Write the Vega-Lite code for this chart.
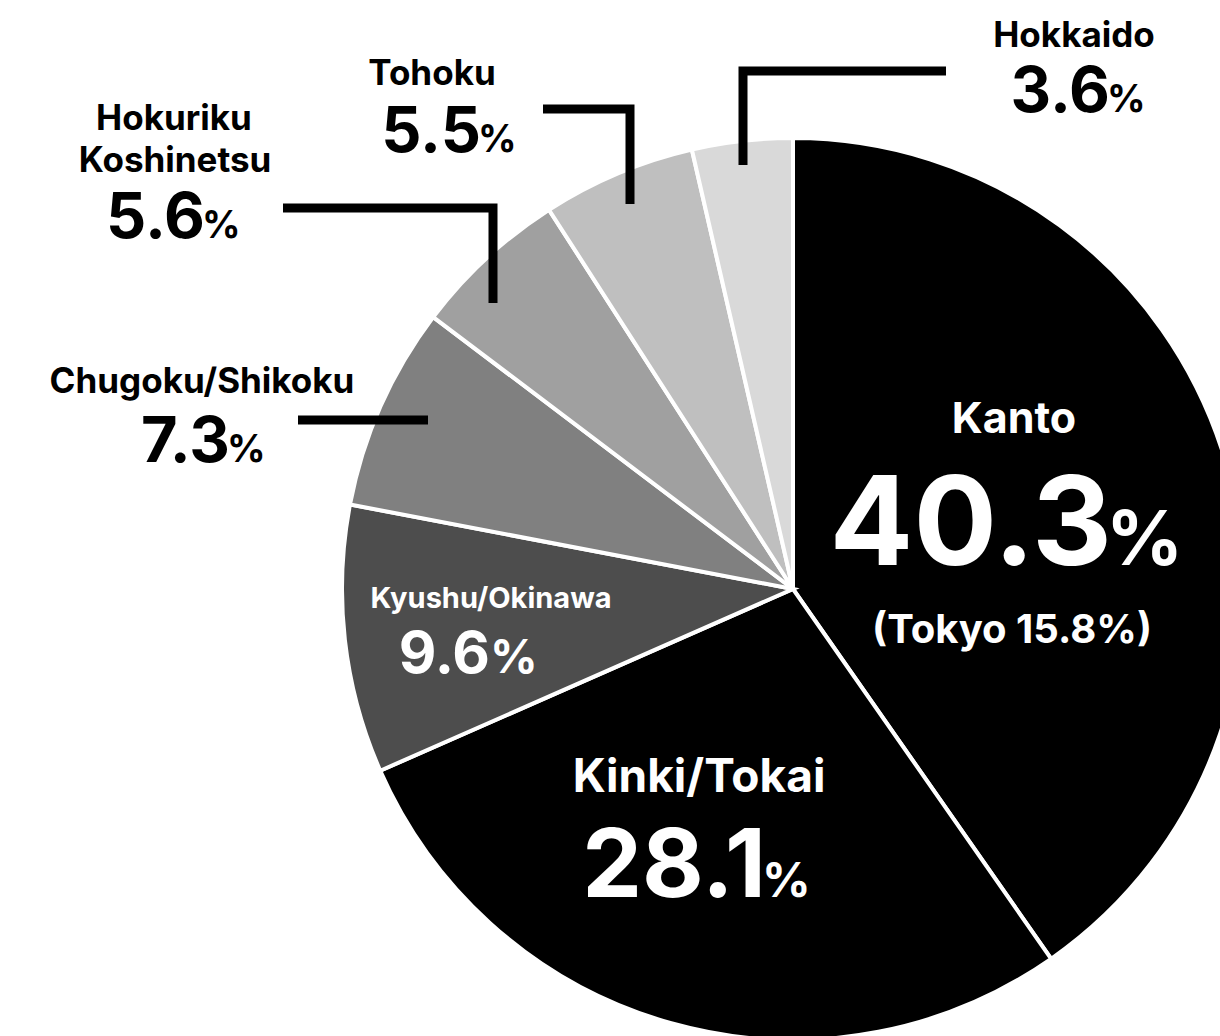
{
  "$schema": "https://vega.github.io/schema/vega-lite/v6.json",
  "width": 854,
  "height": 894,
  "autosize": {"type": "none"},
  "padding": {"left": 366, "top": 142, "right": 0, "bottom": 0},
  "background": "white",
  "config": {
    "view": {"stroke": null},
    "axis": {"disable": true},
    "text": {"font": "Inter", "fontWeight": "bold", "baseline": "alphabetic"}
  },
  "datasets": {
    "shares": [
      {"region": "Kanto", "share": 40.3, "rank": 1},
      {"region": "Kinki/Tokai", "share": 28.1, "rank": 2},
      {"region": "Kyushu/Okinawa", "share": 9.6, "rank": 3},
      {"region": "Chugoku/Shikoku", "share": 7.3, "rank": 4},
      {"region": "Hokuriku Koshinetsu", "share": 5.6, "rank": 5},
      {"region": "Tohoku", "share": 5.5, "rank": 6},
      {"region": "Hokkaido", "share": 3.6, "rank": 7}
    ],
    "leaders": [
      {"region": "Hokkaido", "seq": 1, "x": 946, "y": 71},
      {"region": "Hokkaido", "seq": 2, "x": 743, "y": 71},
      {"region": "Hokkaido", "seq": 3, "x": 743, "y": 165},
      {"region": "Tohoku", "seq": 1, "x": 543, "y": 109},
      {"region": "Tohoku", "seq": 2, "x": 630, "y": 109},
      {"region": "Tohoku", "seq": 3, "x": 630, "y": 204},
      {"region": "Hokuriku Koshinetsu", "seq": 1, "x": 283, "y": 208},
      {"region": "Hokuriku Koshinetsu", "seq": 2, "x": 493, "y": 208},
      {"region": "Hokuriku Koshinetsu", "seq": 3, "x": 493, "y": 303},
      {"region": "Chugoku/Shikoku", "seq": 1, "x": 298, "y": 420},
      {"region": "Chugoku/Shikoku", "seq": 2, "x": 428, "y": 420}
    ],
    "labels": [
      {"region": "Hokkaido", "part": "name", "text": "Hokkaido", "x": 1074, "y": 47},
      {"region": "Tohoku", "part": "name", "text": "Tohoku", "x": 432, "y": 85},
      {"region": "Hokuriku Koshinetsu", "part": "name", "text": "Hokuriku", "x": 174, "y": 130},
      {"region": "Hokuriku Koshinetsu", "part": "name", "text": "Koshinetsu", "x": 175, "y": 172},
      {"region": "Chugoku/Shikoku", "part": "name", "text": "Chugoku/Shikoku", "x": 202, "y": 393},
      {"region": "Hokkaido", "part": "num", "text": "3.6", "x": 1110, "y": 112},
      {"region": "Tohoku", "part": "num", "text": "5.5", "x": 481, "y": 152},
      {"region": "Hokuriku Koshinetsu", "part": "num", "text": "5.6", "x": 205, "y": 238},
      {"region": "Chugoku/Shikoku", "part": "num", "text": "7.3", "x": 230, "y": 462},
      {"region": "Hokkaido", "part": "pct", "text": "%", "x": 1107, "y": 112},
      {"region": "Tohoku", "part": "pct", "text": "%", "x": 478, "y": 152},
      {"region": "Hokuriku Koshinetsu", "part": "pct", "text": "%", "x": 202, "y": 238},
      {"region": "Chugoku/Shikoku", "part": "pct", "text": "%", "x": 227, "y": 462},
      {"region": "Kyushu/Okinawa", "part": "name", "text": "Kyushu/Okinawa", "x": 491, "y": 608},
      {"region": "Kyushu/Okinawa", "part": "num", "text": "9.6", "x": 490, "y": 673},
      {"region": "Kyushu/Okinawa", "part": "pct", "text": "%", "x": 490, "y": 673},
      {"region": "Kanto", "part": "name", "text": "Kanto", "x": 1014, "y": 433},
      {"region": "Kanto", "part": "num", "text": "40.3", "x": 1112, "y": 565},
      {"region": "Kanto", "part": "pct", "text": "%", "x": 1106, "y": 565},
      {"region": "Kanto", "part": "sub", "text": "(Tokyo 15.8%)", "x": 1012, "y": 643},
      {"region": "Kinki/Tokai", "part": "name", "text": "Kinki/Tokai", "x": 699, "y": 792},
      {"region": "Kinki/Tokai", "part": "num", "text": "28.1", "x": 766, "y": 897},
      {"region": "Kinki/Tokai", "part": "pct", "text": "%", "x": 762, "y": 897}
    ]
  },
  "layer": [
    {
      "data": {"name": "shares"},
      "mark": {"type": "arc", "outerRadius": 451, "stroke": "white", "strokeWidth": 4},
      "encoding": {
        "theta": {"field": "share", "type": "quantitative", "stack": true},
        "order": {"field": "rank", "type": "quantitative"},
        "color": {
          "field": "region",
          "type": "nominal",
          "scale": {
            "domain": ["Kanto", "Kinki/Tokai", "Kyushu/Okinawa", "Chugoku/Shikoku", "Hokuriku Koshinetsu", "Tohoku", "Hokkaido"],
            "range": ["#000000", "#000000", "#4d4d4d", "#808080", "#a0a0a0", "#bfbfbf", "#d9d9d9"]
          },
          "legend": null
        }
      }
    },
    {
      "encoding": {
        "x": {"field": "x", "type": "quantitative", "scale": {"domain": [366, 1220], "nice": false, "zero": false}},
        "y": {"field": "y", "type": "quantitative", "scale": {"domain": [142, 1036], "nice": false, "zero": false, "reverse": true}}
      },
      "layer": [
        {
          "data": {"name": "leaders"},
          "mark": {"type": "line", "color": "black", "strokeWidth": 9, "strokeJoin": "miter", "strokeCap": "butt"},
          "encoding": {
            "detail": {"field": "region", "type": "nominal"},
            "order": {"field": "seq", "type": "quantitative"}
          }
        },
        {
          "data": {"name": "labels"},
          "transform": [{"filter": {"and": [{"field": "part", "equal": "name"}, {"field": "region", "oneOf": ["Hokkaido", "Tohoku", "Hokuriku Koshinetsu", "Chugoku/Shikoku"]}]}}],
          "mark": {"type": "text", "align": "center", "fontSize": 35, "color": "black"},
          "encoding": {"text": {"field": "text", "type": "nominal"}}
        },
        {
          "data": {"name": "labels"},
          "transform": [{"filter": {"and": [{"field": "part", "equal": "num"}, {"field": "region", "oneOf": ["Hokkaido", "Tohoku", "Hokuriku Koshinetsu", "Chugoku/Shikoku"]}]}}],
          "mark": {"type": "text", "align": "right", "fontSize": 63, "color": "black"},
          "encoding": {"text": {"field": "text", "type": "nominal"}}
        },
        {
          "data": {"name": "labels"},
          "transform": [{"filter": {"and": [{"field": "part", "equal": "pct"}, {"field": "region", "oneOf": ["Hokkaido", "Tohoku", "Hokuriku Koshinetsu", "Chugoku/Shikoku"]}]}}],
          "mark": {"type": "text", "align": "left", "fontSize": 38, "color": "black"},
          "encoding": {"text": {"field": "text", "type": "nominal"}}
        },
        {
          "data": {"name": "labels"},
          "transform": [{"filter": {"and": [{"field": "part", "equal": "name"}, {"field": "region", "equal": "Kyushu/Okinawa"}]}}],
          "mark": {"type": "text", "align": "center", "fontSize": 29, "color": "white"},
          "encoding": {"text": {"field": "text", "type": "nominal"}}
        },
        {
          "data": {"name": "labels"},
          "transform": [{"filter": {"and": [{"field": "part", "equal": "num"}, {"field": "region", "equal": "Kyushu/Okinawa"}]}}],
          "mark": {"type": "text", "align": "right", "fontSize": 58, "color": "white"},
          "encoding": {"text": {"field": "text", "type": "nominal"}}
        },
        {
          "data": {"name": "labels"},
          "transform": [{"filter": {"and": [{"field": "part", "equal": "pct"}, {"field": "region", "equal": "Kyushu/Okinawa"}]}}],
          "mark": {"type": "text", "align": "left", "fontSize": 47, "color": "white"},
          "encoding": {"text": {"field": "text", "type": "nominal"}}
        },
        {
          "data": {"name": "labels"},
          "transform": [{"filter": {"and": [{"field": "part", "equal": "name"}, {"field": "region", "equal": "Kanto"}]}}],
          "mark": {"type": "text", "align": "center", "fontSize": 43, "color": "white"},
          "encoding": {"text": {"field": "text", "type": "nominal"}}
        },
        {
          "data": {"name": "labels"},
          "transform": [{"filter": {"and": [{"field": "part", "equal": "num"}, {"field": "region", "equal": "Kanto"}]}}],
          "mark": {"type": "text", "align": "right", "fontSize": 124, "color": "white"},
          "encoding": {"text": {"field": "text", "type": "nominal"}}
        },
        {
          "data": {"name": "labels"},
          "transform": [{"filter": {"and": [{"field": "part", "equal": "pct"}, {"field": "region", "equal": "Kanto"}]}}],
          "mark": {"type": "text", "align": "left", "fontSize": 76, "color": "white"},
          "encoding": {"text": {"field": "text", "type": "nominal"}}
        },
        {
          "data": {"name": "labels"},
          "transform": [{"filter": {"and": [{"field": "part", "equal": "sub"}, {"field": "region", "equal": "Kanto"}]}}],
          "mark": {"type": "text", "align": "center", "fontSize": 40, "color": "white"},
          "encoding": {"text": {"field": "text", "type": "nominal"}}
        },
        {
          "data": {"name": "labels"},
          "transform": [{"filter": {"and": [{"field": "part", "equal": "name"}, {"field": "region", "equal": "Kinki/Tokai"}]}}],
          "mark": {"type": "text", "align": "center", "fontSize": 46, "color": "white"},
          "encoding": {"text": {"field": "text", "type": "nominal"}}
        },
        {
          "data": {"name": "labels"},
          "transform": [{"filter": {"and": [{"field": "part", "equal": "num"}, {"field": "region", "equal": "Kinki/Tokai"}]}}],
          "mark": {"type": "text", "align": "right", "fontSize": 95, "color": "white"},
          "encoding": {"text": {"field": "text", "type": "nominal"}}
        },
        {
          "data": {"name": "labels"},
          "transform": [{"filter": {"and": [{"field": "part", "equal": "pct"}, {"field": "region", "equal": "Kinki/Tokai"}]}}],
          "mark": {"type": "text", "align": "left", "fontSize": 48, "color": "white"},
          "encoding": {"text": {"field": "text", "type": "nominal"}}
        }
      ]
    }
  ]
}
